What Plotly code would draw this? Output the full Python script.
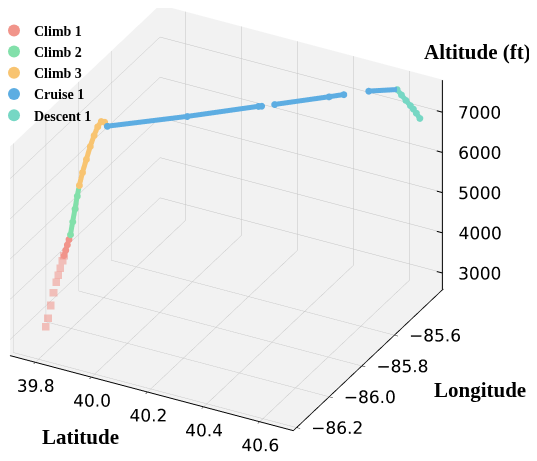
import plotly.graph_objects as go

# ---- data ----
phase_names = ["Climb 1", "Climb 2", "Climb 3", "Cruise 1", "Descent 1"]
phase_colors = ["#F1948A", "#82E0AA", "#F8C471", "#5DADE2", "#76D7C4"]

climb1_sparse_lat = [39.735, 39.740, 39.746, 39.752, 39.758, 39.763, 39.767, 39.772, 39.776]
climb1_sparse_lon = [-86.045, -86.040, -86.033, -86.026, -86.020, -86.016, -86.011, -86.006, -86.003]
climb1_sparse_alt = [2700, 2900, 3200, 3500, 3750, 3920, 4080, 4260, 4380]

climb1_lat = [39.776, 39.779, 39.782, 39.785, 39.788]
climb1_lon = [-86.003, -85.998, -85.993, -85.988, -85.984]
climb1_alt = [4380, 4500, 4620, 4740, 4850]

climb2_lat = [39.788, 39.792, 39.796, 39.800, 39.804]
climb2_lon = [-85.984, -85.977, -85.970, -85.963, -85.957]
climb2_alt = [4850, 5150, 5450, 5750, 6000]

climb3_lat = [39.804, 39.810, 39.818, 39.826, 39.834, 39.842, 39.852, 39.868, 39.885]
climb3_lon = [-85.957, -85.948, -85.938, -85.928, -85.918, -85.910, -85.905, -85.912, -85.925]
climb3_alt = [6000, 6300, 6600, 6900, 7150, 7350, 7480, 7520, 7500]

cruise_lat = [39.885, 40.080, 40.250, 40.258, None, 40.290, 40.420, 40.455, None, 40.515, 40.590]
cruise_lon = [-85.925, -85.770, -85.625, -85.620, None, -85.595, -85.485, -85.455, None, -85.405, -85.360]
cruise_alt = [7500, 7510, 7520, 7520, None, 7525, 7535, 7540, None, 7545, 7550]

descent_lat = [40.590, 40.605, 40.620, 40.635, 40.645, 40.655, 40.667]
descent_lon = [-85.360, -85.359, -85.358, -85.356, -85.355, -85.354, -85.353]
descent_alt = [7550, 7440, 7330, 7220, 7150, 7060, 6950]

lat_ticks = [39.8, 40.0, 40.2, 40.4, 40.6]
lon_ticks = [-86.2, -86.0, -85.8, -85.6]
alt_ticks = [3000, 4000, 5000, 6000, 7000]

lat_range = [39.71, 40.72]
lon_range = [-86.22, -85.30]
alt_range = [2600, 7800]

segments = [
    (climb1_lat, climb1_lon, climb1_alt),
    (climb2_lat, climb2_lon, climb2_alt),
    (climb3_lat, climb3_lon, climb3_alt),
    (cruise_lat, cruise_lon, cruise_alt),
    (descent_lat, descent_lon, descent_alt),
]

fig = go.Figure()

# faded early climb points
fig.add_trace(go.Scatter3d(
    x=climb1_sparse_lat, y=climb1_sparse_lon, z=climb1_sparse_alt,
    mode="markers", marker=dict(size=4, color=phase_colors[0], symbol="square"),
    opacity=0.55, showlegend=False, legendgroup=phase_names[0], hoverinfo="skip"))

for name, col, (la, lo, al) in zip(phase_names, phase_colors, segments):
    fig.add_trace(go.Scatter3d(
        x=la, y=lo, z=al, mode="lines",
        line=dict(color=col, width=10),
        showlegend=False, legendgroup=name, hoverinfo="skip"))
    fig.add_trace(go.Scatter3d(
        x=la, y=lo, z=al, mode="markers", name=name,
        marker=dict(size=4, color=col),
        legendgroup=name))

tick_font = dict(family="DejaVu Sans", size=17, color="black")
eps = 0.002

# altitude axis on the right-back vertical edge (matplotlib style)
zx = lat_range[1] - eps
zy = lon_range[1] - eps
fig.add_trace(go.Scatter3d(
    x=[zx, zx], y=[zy, zy], z=alt_range, mode="lines",
    line=dict(color="black", width=2), showlegend=False, hoverinfo="skip"))
tx, ty, tz = [], [], []
for v in alt_ticks:
    tx += [zx - 0.02, zx, None]
    ty += [zy, zy, None]
    tz += [v, v, None]
fig.add_trace(go.Scatter3d(
    x=tx, y=ty, z=tz, mode="lines", line=dict(color="black", width=2),
    showlegend=False, hoverinfo="skip"))
fig.add_trace(go.Scatter3d(
    x=[zx] * len(alt_ticks), y=[zy] * len(alt_ticks), z=alt_ticks,
    mode="text", text=["  " + str(v) for v in alt_ticks], textposition="middle right",
    textfont=tick_font, showlegend=False, hoverinfo="skip"))

# latitude tick labels along the front edge
fig.add_trace(go.Scatter3d(
    x=lat_ticks, y=[lon_range[0] + eps] * len(lat_ticks), z=[alt_range[0]] * len(lat_ticks),
    mode="text", text=[" <br>" + f"{v:.1f}" for v in lat_ticks], textposition="bottom center",
    textfont=tick_font, showlegend=False, hoverinfo="skip"))

# longitude tick labels along the right edge
fig.add_trace(go.Scatter3d(
    x=[lat_range[1] - eps] * len(lon_ticks), y=lon_ticks, z=[alt_range[0]] * len(lon_ticks),
    mode="text", text=["    \u2212" + f"{abs(v):.1f}" for v in lon_ticks], textposition="middle right",
    textfont=tick_font, showlegend=False, hoverinfo="skip"))

axis_common = dict(
    showbackground=True, backgroundcolor="#f2f2f2",
    gridcolor="#c4c4c4", gridwidth=1,
    showline=True, linecolor="black", linewidth=2,
    ticks="outside", tickcolor="black", ticklen=4,
    zeroline=False, showspikes=False, title=dict(text=""),
    showticklabels=False,
)

fig.update_layout(
    width=529, height=453,
    margin=dict(l=0, r=0, t=0, b=0),
    paper_bgcolor="white",
    showlegend=True,
    legend=dict(x=0.0, y=0.985, xanchor="left", yanchor="top",
                bgcolor="rgba(0,0,0,0)", indentation=-14,
                font=dict(family="Liberation Serif", size=14, color="black", weight="bold"),
                itemsizing="constant", tracegroupgap=0),
    scene=dict(
        domain=dict(x=[0.0, 1.0], y=[0.0, 1.0]),
        xaxis=dict(axis_common, range=lat_range, tickvals=lat_ticks),
        yaxis=dict(axis_common, range=lon_range, tickvals=lon_ticks),
        zaxis=dict(axis_common, range=alt_range, tickvals=alt_ticks,
                   ticks="", showline=False),
        aspectmode="manual", aspectratio=dict(x=1.415, y=1.415, z=1.066),
        camera=dict(eye=dict(x=1.006, y=-1.468, z=0.936),
                    center=dict(x=0.196, y=0.062, z=-0.064),
                    projection=dict(type="orthographic")),
    ),
)

W, H = 529, 453
def ann(text, px, py):
    return dict(text=text, x=px / W, y=1 - py / H, xref="paper", yref="paper",
                xanchor="center", yanchor="middle", showarrow=False,
                font=dict(family="Liberation Serif", size=21, color="black", weight="bold"))

fig.layout.annotations = [ann("Altitude (ft)", 469, 44), ann("Longitude", 472, 382), ann("Latitude", 72, 429)]

fig.write_html("out.html")
